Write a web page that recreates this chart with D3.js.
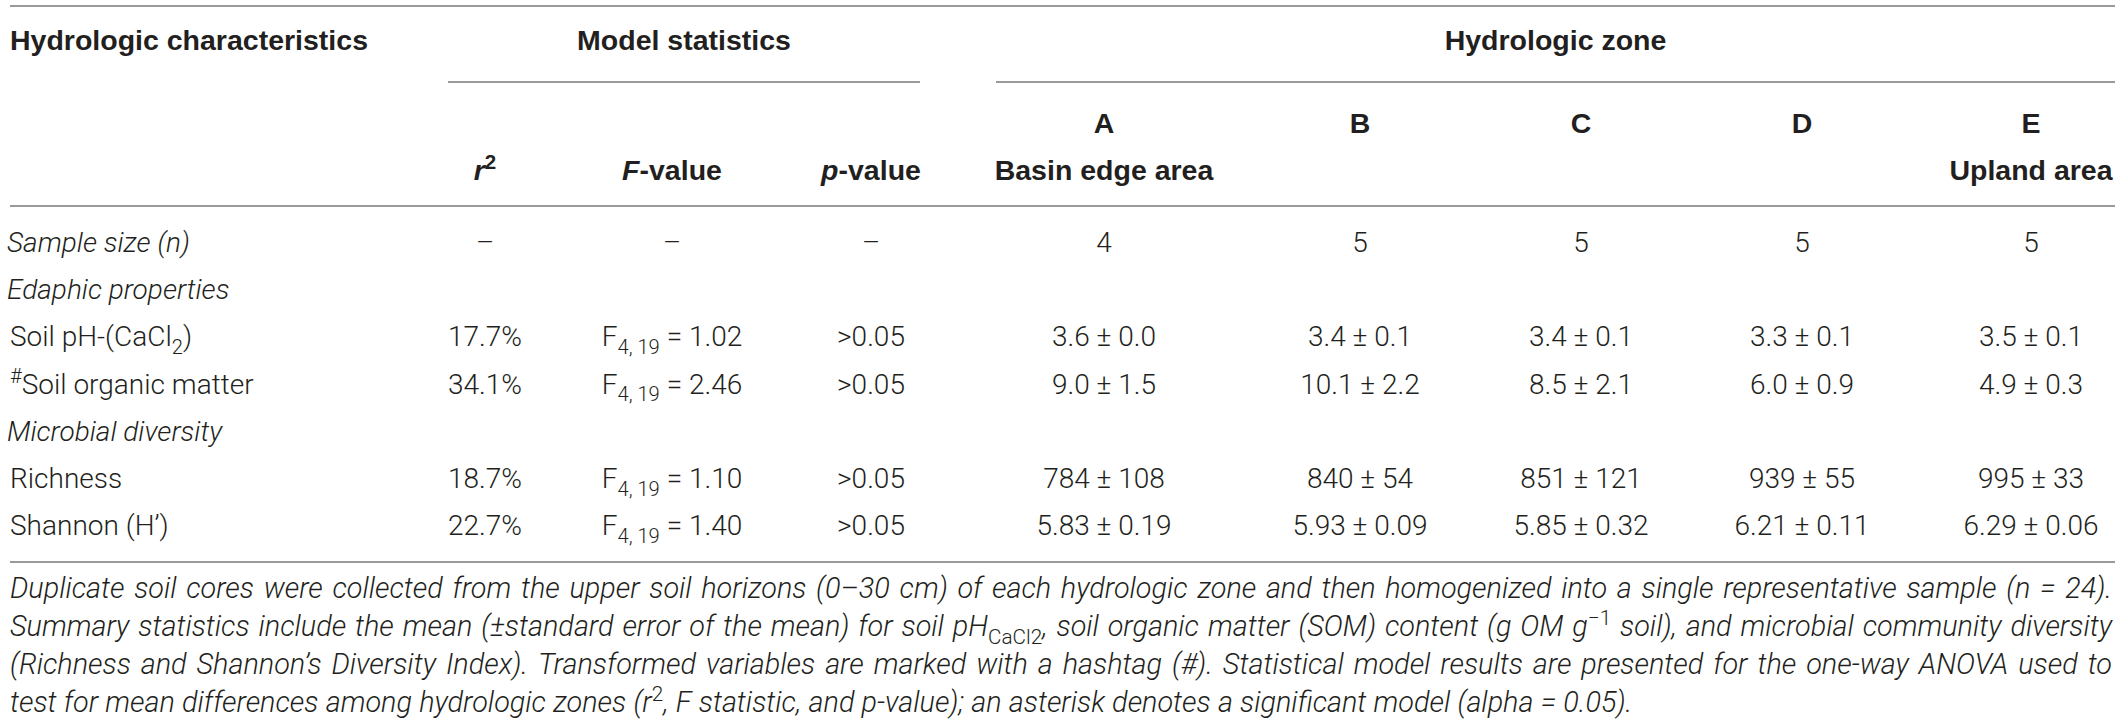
<!DOCTYPE html>
<html>
<head>
<meta charset="utf-8">
<script src="https://cdn.jsdelivr.net/npm/d3@7"></script>
<style>
  html, body { margin: 0; padding: 0; background: #fff; }
  svg { display: block; }
  text { fill: #231f20; }
  .hd { font-family: "Liberation Sans", Arial, sans-serif; font-weight: 700; font-size: 28.5px; }
  .bd { font-family: Roboto, "Liberation Sans", sans-serif; font-weight: 300; font-size: 28px; }
  .fn { font-family: Roboto, "Liberation Sans", sans-serif; font-weight: 300; font-style: italic; font-size: 28.8px; }
  .rule { stroke: #9a9a9a; stroke-width: 2; }
</style>
</head>
<body>
<div id="table"></div>
<script>
// ---- table content ----
var zones = ["A", "B", "C", "D", "E"];
var zoneNotes = ["Basin edge area", "", "", "", "Upland area"];
var statCols = ["r2", "F", "p"];

var rowKeys = ["n", "grp1", "ph", "som", "grp2", "rich", "shan"];
var rowLabels = ["Sample size (n)", "Edaphic properties", "Soil pH-(CaCl2)", "#Soil organic matter",
                 "Microbial diversity", "Richness", "Shannon (H\u2019)"];
var groupRows = ["n", "grp1", "grp2"];   // italic labels

var rSquared = ["\u2013", null, "17.7%", "34.1%", null, "18.7%", "22.7%"];
var fValues  = [null, null, "1.02", "2.46", null, "1.10", "1.40"];
var pValues  = ["\u2013", null, ">0.05", ">0.05", null, ">0.05", ">0.05"];
var fDf = "4, 19";

var sampleSize = [4, 5, 5, 5, 5];
var phMean   = ["3.6", "3.4", "3.4", "3.3", "3.5"];
var phSE     = ["0.0", "0.1", "0.1", "0.1", "0.1"];
var somMean  = ["9.0", "10.1", "8.5", "6.0", "4.9"];
var somSE    = ["1.5", "2.2", "2.1", "0.9", "0.3"];
var richMean = ["784", "840", "851", "939", "995"];
var richSE   = ["108", "54", "121", "55", "33"];
var shanMean = ["5.83", "5.93", "5.85", "6.21", "6.29"];
var shanSE   = ["0.19", "0.09", "0.32", "0.11", "0.06"];

var width = 2122, height = 721;
var svg = d3.select("#table").append("svg").attr("width", width).attr("height", height);

// column and row positions
var colKeys = statCols.concat(zones);
var x = d3.scaleOrdinal().domain(colKeys).range([485, 672, 871, 1104, 1360, 1581, 1802, 2031]);
var y = d3.scalePoint().domain(rowKeys).range([252, 535]);
var left = 10, right = 2115;

// helper: write segments into a text element, handling sub/superscripts
function writeSegs(sel, segs, size) {
  var shift = 0;
  segs.forEach(function(s) {
    var target = s.s === "sub" ? size * 0.28 : s.s === "sup" ? -size * 0.38 : 0;
    var ts = sel.append("tspan").attr("dy", target - shift).text(s.t);
    if (s.s) ts.style("font-size", (size * 0.72) + "px");
    if (s.i) ts.style("font-style", "italic");
    if (s.u) ts.style("font-style", "normal");
    shift = target;
  });
}

// ---- rules ----
var rules = [[left, right, 6], [448, 920, 82], [996, right, 82], [left, right, 206], [left, right, 562]];
svg.selectAll("line.rule").data(rules).enter().append("line")
  .attr("class", "rule")
  .attr("x1", function(d) { return d[0]; }).attr("x2", function(d) { return d[1]; })
  .attr("y1", function(d) { return d[2]; }).attr("y2", function(d) { return d[2]; });

// ---- header ----
var hd = svg.append("g").attr("class", "hd");
hd.append("text").attr("x", left).attr("y", 50).text("Hydrologic characteristics");
hd.append("text").attr("x", (448 + 920) / 2).attr("y", 50).attr("text-anchor", "middle").text("Model statistics");
hd.append("text").attr("x", (996 + right) / 2).attr("y", 50).attr("text-anchor", "middle").text("Hydrologic zone");

hd.selectAll("text.zone").data(zones).enter().append("text")
  .attr("class", "zone").attr("text-anchor", "middle")
  .attr("x", function(d) { return x(d); }).attr("y", 133).text(function(d) { return d; });
hd.selectAll("text.note").data(zones.filter(function(z, i) { return zoneNotes[i]; })).enter().append("text")
  .attr("class", "note").attr("text-anchor", "middle")
  .attr("x", function(d) { return x(d); }).attr("y", 180)
  .text(function(d) { return zoneNotes[zones.indexOf(d)]; });

var statHead = {
  r2: [{t: "r", i: 1}, {t: "2", s: "sup"}],
  F: [{t: "F", i: 1}, {t: "-value"}],
  p: [{t: "p", i: 1}, {t: "-value"}]
};
statCols.forEach(function(c) {
  var t = hd.append("text").attr("x", x(c)).attr("y", 180).attr("text-anchor", "middle");
  writeSegs(t, statHead[c], 28.5);
});

// ---- body ----
var bd = svg.append("g").attr("class", "bd");
var labelSegs = {
  ph: [{t: "Soil pH-(CaCl"}, {t: "2", s: "sub"}, {t: ")"}],
  som: [{t: "#", s: "sup"}, {t: "Soil organic matter"}]
};
rowKeys.forEach(function(k, i) {
  var italic = groupRows.indexOf(k) >= 0;
  var t = bd.append("text").attr("x", italic ? 7 : left).attr("y", y(k))
    .style("font-style", italic ? "italic" : null);
  writeSegs(t, labelSegs[k] || [{t: rowLabels[i]}], 28);

  if (rSquared[i]) bd.append("text").attr("x", x("r2")).attr("y", y(k)).attr("text-anchor", "middle").text(rSquared[i]);
  if (pValues[i]) bd.append("text").attr("x", x("p")).attr("y", y(k)).attr("text-anchor", "middle").text(pValues[i]);
  if (k === "n") {
    bd.append("text").attr("x", x("F")).attr("y", y(k)).attr("text-anchor", "middle").text("\u2013");
  } else if (fValues[i]) {
    var ft = bd.append("text").attr("x", x("F")).attr("y", y(k)).attr("text-anchor", "middle");
    writeSegs(ft, [{t: "F"}, {t: fDf, s: "sub"}, {t: " = " + fValues[i]}], 28);
  }
});

var zoneVals = {
  n: sampleSize.map(String),
  ph: phMean.map(function(m, j) { return m + " \u00b1 " + phSE[j]; }),
  som: somMean.map(function(m, j) { return m + " \u00b1 " + somSE[j]; }),
  rich: richMean.map(function(m, j) { return m + " \u00b1 " + richSE[j]; }),
  shan: shanMean.map(function(m, j) { return m + " \u00b1 " + shanSE[j]; })
};
Object.keys(zoneVals).forEach(function(k) {
  bd.selectAll("text.v-" + k).data(zoneVals[k]).enter().append("text")
    .attr("class", "v-" + k).attr("text-anchor", "middle")
    .attr("x", function(d, j) { return x(zones[j]); })
    .attr("y", y(k))
    .text(function(d) { return d; });
});

// ---- footnote (justified) ----
var footLines = [
  [{t: "Duplicate soil cores were collected from the upper soil horizons (0\u201330 cm) of each hydrologic zone and then homogenized into a single representative sample (n = 24)."}],
  [{t: "Summary statistics include the mean (\u00b1standard error of the mean) for soil pH"}, {t: "CaCl2", s: "sub", u: 1},
   {t: ", soil organic matter (SOM) content (g OM g"}, {t: "\u22121", s: "sup", u: 1}, {t: " soil), and microbial community diversity"}],
  [{t: "(Richness and Shannon\u2019s Diversity Index). Transformed variables are marked with a hashtag (#). Statistical model results are presented for the one-way ANOVA used to"}],
  [{t: "test for mean differences among hydrologic zones (r"}, {t: "2", s: "sup", u: 1}, {t: ", F statistic, and p-value); an asterisk denotes a significant model (alpha = 0.05)."}]
];
var footSize = 28.8;
var footY = d3.scalePoint().domain(d3.range(footLines.length)).range([598, 712]);
var fn = svg.append("g").attr("class", "fn");

footLines.forEach(function(segs, li) {
  // break the line into words, each word keeping its segment pieces
  var words = [[]];
  segs.forEach(function(s) {
    var parts = s.t.split(" ");
    parts.forEach(function(p, pi) {
      if (pi > 0) words.push([]);
      if (p) words[words.length - 1].push({t: p, s: s.s, u: s.u});
    });
  });
  words = words.filter(function(w) { return w.length; });
  var nodes = words.map(function(w) {
    var t = fn.append("text").attr("y", footY(li));
    writeSegs(t, w, footSize);
    return t;
  });
  var widths = nodes.map(function(t) { return t.node().getComputedTextLength(); });
  var space = footSize * 0.25;
  if (li < footLines.length - 1) space = Math.max(footSize * 0.15, (right - 3 - left - d3.sum(widths)) / (words.length - 1));
  var cx = left;
  nodes.forEach(function(t, j) { t.attr("x", cx); cx += widths[j] + space; });
});
</script>
</body>
</html>
